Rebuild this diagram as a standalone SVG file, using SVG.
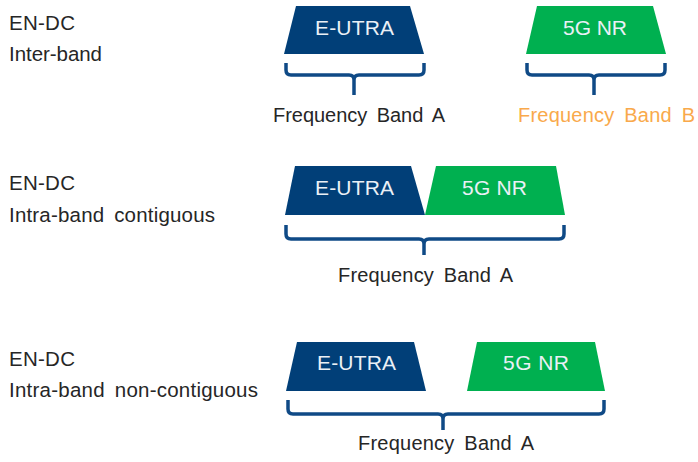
<svg xmlns="http://www.w3.org/2000/svg" width="698" height="462" viewBox="0 0 698 462">
<style>
.lbl{font-family:"Liberation Sans",Arial,sans-serif;font-size:20.5px;fill:#262626;word-spacing:4px}
.freq{font-family:"Liberation Sans",Arial,sans-serif;font-size:20px;fill:#262626;word-spacing:4px}
.freqB{fill:#F9A94B}
.box{font-family:"Liberation Sans",Arial,sans-serif;font-size:21px;fill:#EAF0F6}
.eutra{fill:#013F78}
.nr{fill:#00B050}
.br{fill:none;stroke:#0F4A86;stroke-width:3.5;stroke-linejoin:round}
</style>
<rect width="698" height="462" fill="#ffffff"/>
<g id="labels">
<g id="row1-label"><text class="lbl" x="9" y="30" textLength="66" lengthAdjust="spacing">EN-DC</text><text class="lbl" x="9" y="61" textLength="93" lengthAdjust="spacing">Inter-band</text></g>
<g id="row2-label"><text class="lbl" x="9" y="190" textLength="66" lengthAdjust="spacing">EN-DC</text><text class="lbl" x="9" y="222" textLength="206" lengthAdjust="spacing">Intra-band contiguous</text></g>
<g id="row3-label"><text class="lbl" x="9" y="366" textLength="66" lengthAdjust="spacing">EN-DC</text><text class="lbl" x="9" y="397" textLength="249" lengthAdjust="spacing">Intra-band non-contiguous</text></g>
</g>
<g id="row1-eutra"><polygon class="eutra" points="296,6 410,6 424,54 284,54"/><text class="box" x="315" y="35" textLength="79" lengthAdjust="spacing">E-UTRA</text></g>
<g id="row1-nr"><polygon class="nr" points="537,6 653,6 666,54 526,54"/><text class="box" x="563" y="35" textLength="64" lengthAdjust="spacing">5G NR</text></g>
<g id="row2-eutra"><polygon class="eutra" points="295,166 411,166 425,215 285,215"/><text class="box" x="315" y="195" textLength="79" lengthAdjust="spacing">E-UTRA</text></g>
<g id="row2-nr"><polygon class="nr" points="436,166 556,166 565,215 425,215"/><text class="box" x="462" y="195" textLength="65" lengthAdjust="spacing">5G NR</text></g>
<g id="row3-eutra"><polygon class="eutra" points="297,342 414,342 426,391 286,391"/><text class="box" x="317" y="370" textLength="79" lengthAdjust="spacing">E-UTRA</text></g>
<g id="row3-nr"><polygon class="nr" points="477,342 595,342 605,391 467,391"/><text class="box" x="503" y="370" textLength="66" lengthAdjust="spacing">5G NR</text></g>
<g id="connectors">
<path class="br" d="M286,63 V70 Q286,75 291,75 H349 Q354,75 354,80 V95 M354,80 Q354,75 359,75 H419 Q424,75 424,70 V63"/>
<path class="br" d="M527,63 V70 Q527,75 532,75 H589 Q594,75 594,80 V95 M594,80 Q594,75 599,75 H660 Q665,75 665,70 V63"/>
<path class="br" d="M286,225 V234 Q286,239 291,239 H419 Q424,239 424,244 V255 M424,244 Q424,239 429,239 H559 Q564,239 564,234 V225"/>
<path class="br" d="M288,400 V409 Q288,414 293,414 H438 Q443,414 443,419 V430 M443,419 Q443,414 448,414 H599 Q604,414 604,409 V400"/>
</g>
<g id="freq-labels">
<g id="freq1A"><text class="freq" x="273" y="122" textLength="172" lengthAdjust="spacing">Frequency Band A</text></g>
<g id="freq1B"><text class="freq freqB" x="518" y="122" textLength="177" lengthAdjust="spacing">Frequency Band B</text></g>
<g id="freq2A"><text class="freq" x="338" y="282" textLength="175" lengthAdjust="spacing">Frequency Band A</text></g>
<g id="freq3A"><text class="freq" x="358" y="450" textLength="176" lengthAdjust="spacing">Frequency Band A</text></g>
</g>
</svg>
